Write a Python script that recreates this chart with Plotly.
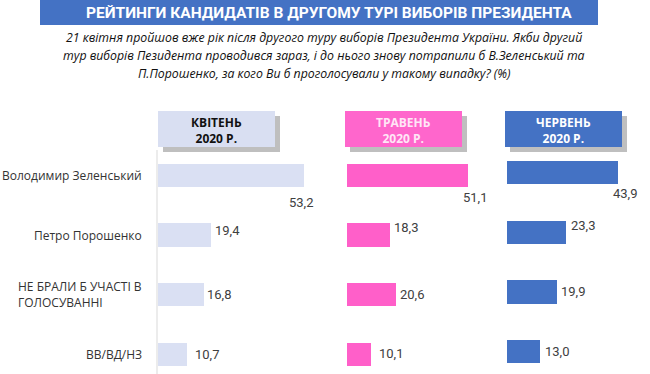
import plotly.graph_objects as go

# ---------------- data ----------------
categories = ["Володимир Зеленський", "Петро Порошенко",
              "НЕ БРАЛИ Б УЧАСТІ В<br>ГОЛОСУВАННІ", "ВВ/ВД/НЗ"]
april = [53.2, 19.4, 16.8, 10.7]
may = [51.1, 18.3, 20.6, 10.1]
june = [43.9, 23.3, 19.9, 13.0]
panel_titles = ["КВІТЕНЬ<br>2020 Р.", "ТРАВЕНЬ<br>2020 Р.", "ЧЕРВЕНЬ<br>2020 Р."]
title_text = "РЕЙТИНГИ КАНДИДАТІВ В ДРУГОМУ ТУРІ ВИБОРІВ ПРЕЗИДЕНТА"
subtitle_lines = [
    "21 квітня пройшов вже рік після другого туру виборів Президента України. Якби другий",
    "тур виборів Пезидента проводився зараз, і до нього знову потрапили б В.Зеленський та",
    "П.Порошенко, за кого Ви б проголосували у такому випадку? (%)",
]

# ---------------- style ----------------
W, H = 650, 374
def px(x):
    return x / W
def py(y):
    return 1 - y / H

bar_colors = ["#DAE0F3", "#FF5FC9", "#4472C4"]
head_fill = ["#D9DFF2", "#FF66CC", "#4472C4"]
head_text = ["#111111", "#FFE6F6", "#FFFFFF"]
head_x = [(158, 275), (345, 462), (505, 622)]
x_dom_px = [(158, 330), (347, 497), (507, 650)]
scale = [2.735, 2.37, 2.53]  # px per unit
label_font = dict(family="Liberation Sans Narrow, Arial Narrow, Roboto", size=13, color="#404040")
# per panel label offsets: (anchor, dx, dy_up)
offsets = [
    [("center", -3, -27), ("left", 2, 5), ("left", 1, 0), ("left", 6, 0)],
    [("center", 7, -22), ("left", 2, 8), ("left", 2, 0), ("left", 6, 1)],
    [("center", 7, -21), ("left", 3, 7), ("left", 2, 0), ("left", 3, 0)],
]

fig = go.Figure()
series = [april, may, june]
xaxes = ["x", "x2", "x3"]
yaxes = ["y", "y", "y2"]
for i, vals in enumerate(series):
    fig.add_trace(go.Bar(
        x=vals, y=categories, orientation="h",
        marker=dict(color=bar_colors[i], line=dict(width=0)),
        width=0.39, xaxis=xaxes[i], yaxis=yaxes[i],
        hoverinfo="skip", showlegend=False,
    ))

annotations = []
# data labels
for i, vals in enumerate(series):
    for j, v in enumerate(vals):
        anchor, dx, dy = offsets[i][j]
        annotations.append(dict(
            x=v, y=categories[j], xref=xaxes[i], yref=yaxes[i],
            text=f"{v:.1f}".replace(".", ","), showarrow=False,
            xanchor=anchor, yanchor="middle", xshift=dx, yshift=dy,
            font=label_font,
        ))
# category labels
for j, c in enumerate(categories):
    annotations.append(dict(
        x=px(144), y=c, xref="paper", yref="y", text=c, showarrow=False,
        xanchor="right", yanchor="middle", align="left",
        font=dict(family="Open Sans", size=12, color="#333333"),
    ))
# title
annotations.append(dict(
    x=px(329), y=py(12.5), xref="paper", yref="paper", text=title_text,
    showarrow=False, xanchor="center", yanchor="middle",
    font=dict(family="Roboto", size=15.5, color="white", weight="bold"),
))
# subtitle
for k, line in enumerate(subtitle_lines):
    annotations.append(dict(
        x=px(324), y=py(38 + 17.7 * k), xref="paper", yref="paper", text=line,
        showarrow=False, xanchor="center", yanchor="middle",
        font=dict(family="Open Sans", size=12.3, color="#111111", style="italic"),
    ))

shapes = []
shapes.append(dict(type="rect", xref="paper", yref="paper",
                   x0=px(40), x1=px(598), y0=py(25), y1=py(0),
                   fillcolor="#4472C4", line=dict(width=0), layer="below"))
for i, (a, b) in enumerate(head_x):
    shapes.append(dict(type="rect", xref="paper", yref="paper",
                       x0=px(a + 5), x1=px(b + 5), y0=py(152), y1=py(116),
                       fillcolor="#BFBFBF", line=dict(width=0), layer="below"))
    shapes.append(dict(type="rect", xref="paper", yref="paper",
                       x0=px(a), x1=px(b), y0=py(147), y1=py(111),
                       fillcolor=head_fill[i], line=dict(width=0), layer="below"))
    annotations.append(dict(
        x=px((a + b) / 2), y=py(130), xref="paper", yref="paper",
        text=panel_titles[i], showarrow=False, xanchor="center", yanchor="middle",
        font=dict(family="Open Sans", size=12, color=head_text[i], weight="bold"),
    ))
shapes.append(dict(type="line", xref="paper", yref="paper",
                   x0=px(157), x1=px(157), y0=py(374), y1=py(150),
                   line=dict(color="#D9D9D9", width=1)))

ydom = [0, py(150)]
step = 59.7
def yrange(c0):
    return [(374 - c0) / step, -(c0 - 150) / step]

layout_axes = {}
for i in range(3):
    a, b = x_dom_px[i]
    name = "xaxis" if i == 0 else f"xaxis{i + 1}"
    layout_axes[name] = dict(domain=[px(a), px(b)], range=[0, (b - a) / scale[i]],
                             visible=False, fixedrange=True,
                             anchor="y" if i < 2 else "y2")

fig.update_layout(
    width=W, height=H, margin=dict(l=0, r=0, t=0, b=0),
    paper_bgcolor="white", plot_bgcolor="rgba(0,0,0,0)",
    yaxis=dict(domain=ydom, range=yrange(175.3), visible=False, fixedrange=True),
    yaxis2=dict(domain=ydom, range=yrange(172.5), visible=False, fixedrange=True,
                anchor="x3"),
    annotations=annotations, shapes=shapes, bargap=0,
    **layout_axes,
)

fig.write_html("out.html", config={"displayModeBar": False},
               post_script="document.body.style.margin='0';")
